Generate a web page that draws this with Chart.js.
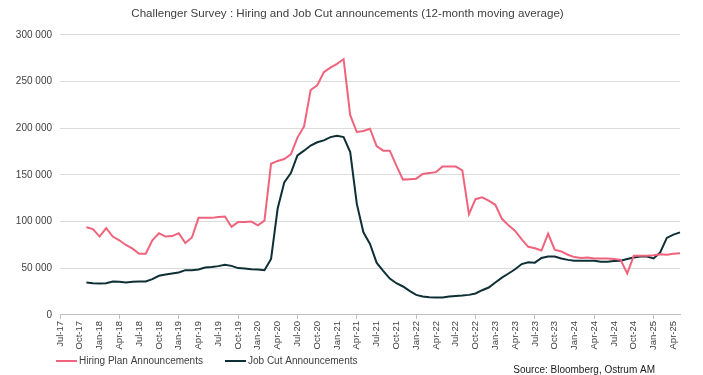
<!DOCTYPE html>
<html>
<head>
<meta charset="utf-8">
<script src="https://cdn.jsdelivr.net/npm/chart.js@4.4.1/dist/chart.umd.min.js"></script>
<style>
  html, body { margin: 0; padding: 0; background: #fff; }
  #wrap { width: 703px; height: 375px; }
</style>
</head>
<body>
<div id="wrap"><canvas id="chart"></canvas></div>
<script>
// monthly categories, Jul-17 .. May-25
const monthNames = ['Jan', 'Feb', 'Mar', 'Apr', 'May', 'Jun', 'Jul', 'Aug', 'Sep', 'Oct', 'Nov', 'Dec']
const labels = []
for (let i = 0; i < 95; i++) {
  const m = (6 + i) % 12
  const y = 17 + Math.floor((6 + i) / 12)
  labels.push(monthNames[m] + '-' + y)
}

// 12-month moving averages (thousands), series start Nov-17
const hiring = [null, null, null, null,
  94, 92, 84, 93, 84, 80, 75, 71, 65.5, 65.5, 80, 87.5, 84, 84.5, 87.5, 77, 83,
  104, 104, 104, 105, 105.5, 94.5, 99.5, 99.5, 100, 96, 101,
  162, 165, 167, 172, 190, 202, 241, 246, 260, 265, 269, 274,
  214, 196, 197, 199.5, 181, 176, 176, 160, 145, 145.5, 146, 151, 152, 153,
  159, 159, 159, 155, 108, 124, 126, 122.5, 118, 103, 96, 90, 81, 73,
  71.5, 69, 87, 70, 68, 64.5, 62, 61, 61.5, 60.5, 60.5, 60.5, 60, 59,
  44.5, 63.5, 63.5, 63.5, 64, 65, 64.5, 65.5, 66]

const jobCuts = [null, null, null, null,
  34.7, 34, 33.8, 34, 35.8, 35.5, 34.8, 35.5, 35.8, 35.8, 38.4, 42, 43.4, 44.4,
  45.5, 48, 48, 48.7, 50.9, 51.3, 52.3, 53.8, 52.6, 50.2, 49.8, 49, 48.8, 48,
  60, 114, 142, 152, 171, 176, 181.5, 185, 187, 190.5, 192, 190.5,
  174.5, 119, 88.5, 76, 56, 47.3, 39, 34, 30.5, 25.8, 21.5, 19.7, 19, 18.6,
  18.6, 19.7, 20.4, 20.8, 21.5, 23, 26.5, 29.4, 34.7, 40, 44.4, 49, 54.5, 56.5,
  56, 61, 62.7, 62.7, 60.5, 59, 58, 58, 58, 58, 57, 57, 57.7, 58,
  60, 61.6, 62.7, 62.7, 60.5, 67, 82.5, 86, 88.5]

const yTicks = [0, 50000, 100000, 150000, 200000, 250000, 300000]

const toUnits = arr => arr.map(v => (v === null ? null : v * 1000))
const fmt = v => String(v).replace(/\B(?=(\d{3})+(?!\d))/g, ' ')

const FONT = '"Liberation Sans", Arial, sans-serif'

// legend + source line under the axis
const footer = {
  id: 'footer',
  afterDraw(chart) {
    const ctx = chart.ctx
    ctx.save()
    ctx.font = '10px ' + FONT
    ctx.textBaseline = 'middle'
    const starts = [56, 225]
    chart.data.datasets.forEach((ds, i) => {
      const x = starts[i]
      ctx.strokeStyle = ds.borderColor
      ctx.lineWidth = 2
      ctx.beginPath()
      ctx.moveTo(x, 361)
      ctx.lineTo(x + 21, 361)
      ctx.stroke()
      ctx.fillStyle = '#404040'
      ctx.textAlign = 'left'
      ctx.fillText(ds.label, x + 23, 361)
    })
    ctx.fillStyle = '#1a1a1a'
    ctx.textAlign = 'right'
    ctx.fillText('Source: Bloomberg, Ostrum AM', 655, 370)
    ctx.restore()
  }
}

Chart.defaults.font.family = FONT

new Chart(document.getElementById('chart').getContext('2d'), {
  type: 'line',
  data: {
    labels: labels,
    datasets: [
      {
        label: 'Hiring Plan Announcements',
        data: toUnits(hiring),
        borderColor: '#f0637c',
        backgroundColor: '#f0637c',
        borderWidth: 2,
        pointRadius: 0,
        tension: 0,
      },
      {
        label: 'Job Cut Announcements',
        data: toUnits(jobCuts),
        borderColor: '#0e2f35',
        backgroundColor: '#0e2f35',
        borderWidth: 2,
        pointRadius: 0,
        tension: 0,
      },
    ],
  },
  options: {
    responsive: true,
    maintainAspectRatio: false,
    animation: false,
    layout: { padding: { left: 15, right: 23, top: 0, bottom: 23 } },
    plugins: {
      title: {
        display: true,
        text: 'Challenger Survey : Hiring and Job Cut announcements (12-month moving average)',
        color: '#404040',
        font: { size: 11.6, weight: 'normal' },
        padding: { top: 7, bottom: 14 },
      },
      legend: { display: false },
      tooltip: { enabled: false },
    },
    scales: {
      x: {
        grid: {
          drawOnChartArea: false,
          tickLength: 4,
          tickColor: c => (c.index % 3 === 0 ? '#bfbfbf' : 'rgba(0,0,0,0)'),
        },
        border: { color: '#bfbfbf' },
        ticks: {
          autoSkip: false,
          minRotation: 90,
          maxRotation: 90,
          padding: 2,
          color: '#404040',
          font: { size: 9.5 },
          callback: (v, i) => (i % 3 === 0 ? labels[i] : null),
        },
      },
      y: {
        min: 0,
        max: 300000,
        afterFit: scale => { scale.width = 45 },
        afterBuildTicks: scale => { scale.ticks = yTicks.map(v => ({ value: v })) },
        border: { display: false },
        grid: { color: '#dcdcdc', drawTicks: false },
        ticks: {
          padding: 8,
          color: '#404040',
          font: { size: 10 },
          callback: v => fmt(v),
        },
      },
    },
  },
  plugins: [footer],
})
</script>
</body>
</html>
